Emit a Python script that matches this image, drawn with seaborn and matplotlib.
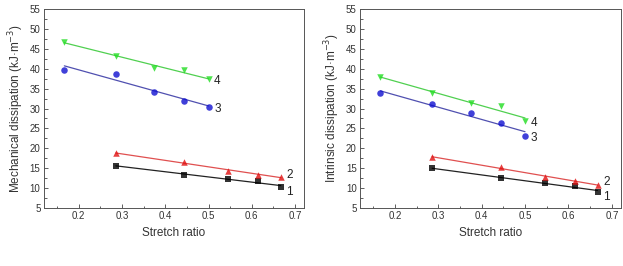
import numpy as np
import pandas as pd
import matplotlib
matplotlib.use("Agg")
import matplotlib.pyplot as plt
from matplotlib.ticker import MultipleLocator
import seaborn as sns

sns.set_theme(style="white")
plt.rcParams['font.family'] = ['Liberation Sans', 'DejaVu Sans']

# data
x_low = [0.286, 0.444, 0.545, 0.615, 0.667]   # series 1, 2
x_high = [0.167, 0.286, 0.375, 0.444, 0.500]  # series 3, 4

mech_1 = [15.6, 13.4, 12.3, 11.7, 10.3]
mech_2 = [18.7, 16.6, 14.4, 13.4, 12.7]
mech_3 = [39.8, 38.8, 34.2, 32.0, 30.5]
mech_4 = [46.8, 43.1, 40.1, 39.7, 37.4]

intr_1 = [15.0, 12.5, 11.3, 10.5, 9.1]
intr_2 = [17.7, 15.4, 12.8, 11.7, 10.8]
intr_3 = [33.8, 31.1, 28.9, 26.4, 23.1]
intr_4 = [38.0, 33.8, 31.4, 30.6, 26.8]

labels = ["1", "2", "3", "4"]
markers = ["s", "^", "o", "v"]
mcolors = ["#000000", "#e01010", "#1010d0", "#22dd22"]
lcolors = ["#222222", "#e05050", "#5050b0", "#50d050"]
label_off = [(4, -3.5), (4, 2), (4, -1.5), (4, -1.5)]

fig = plt.figure(figsize=(6.23, 2.66), dpi=100)
ax1 = fig.add_axes([0.0706, 0.218, 0.417, 0.748])
ax2 = fig.add_axes([0.578, 0.218, 0.418, 0.748])

panels = [
    (ax1, [mech_1, mech_2, mech_3, mech_4], "Mechanical dissipation (kJ·m$^{-3}$)"),
    (ax2, [intr_1, intr_2, intr_3, intr_4], "Intrinsic dissipation (kJ·m$^{-3}$)"),
]

for ax, series, ylab in panels:
    for i, ys in enumerate(series):
        xs = x_low if i < 2 else x_high
        df = pd.DataFrame({"x": xs, "y": ys})
        sns.regplot(data=df, x="x", y="y", ax=ax, ci=None, truncate=True,
                    marker=markers[i],
                    scatter_kws=dict(color=mcolors[i], s=22, linewidths=0, zorder=3),
                    line_kws=dict(color=lcolors[i], lw=0.9, zorder=2))
        ax.annotate(labels[i], (xs[-1], ys[-1]), xytext=label_off[i],
                    textcoords="offset points", fontsize=8.5, color="#222222",
                    va="center", ha="left")
    ax.set_xlim(0.12, 0.72)
    ax.set_ylim(5, 55)
    ax.xaxis.set_major_locator(MultipleLocator(0.1))
    ax.xaxis.set_minor_locator(MultipleLocator(0.05))
    ax.yaxis.set_major_locator(MultipleLocator(5))
    ax.yaxis.set_minor_locator(MultipleLocator(2.5))
    ax.tick_params(which="both", direction="in", bottom=True, left=True,
                   top=False, right=False, length=3, width=0.6,
                   color="#444444", labelsize=7, labelcolor="#333333", pad=2.5)
    ax.tick_params(which="minor", length=1.8)
    ax.set_xlabel("Stretch ratio", fontsize=8.5, color="#333333", labelpad=4)
    ax.set_ylabel(ylab, fontsize=8.5, color="#333333", labelpad=3)
    for s in ax.spines.values():
        s.set_color("#555555")
        s.set_linewidth(0.7)
    ax.set_xticklabels([f"{t:.1f}" for t in ax.get_xticks()])

fig.savefig("out.png", dpi=100)
